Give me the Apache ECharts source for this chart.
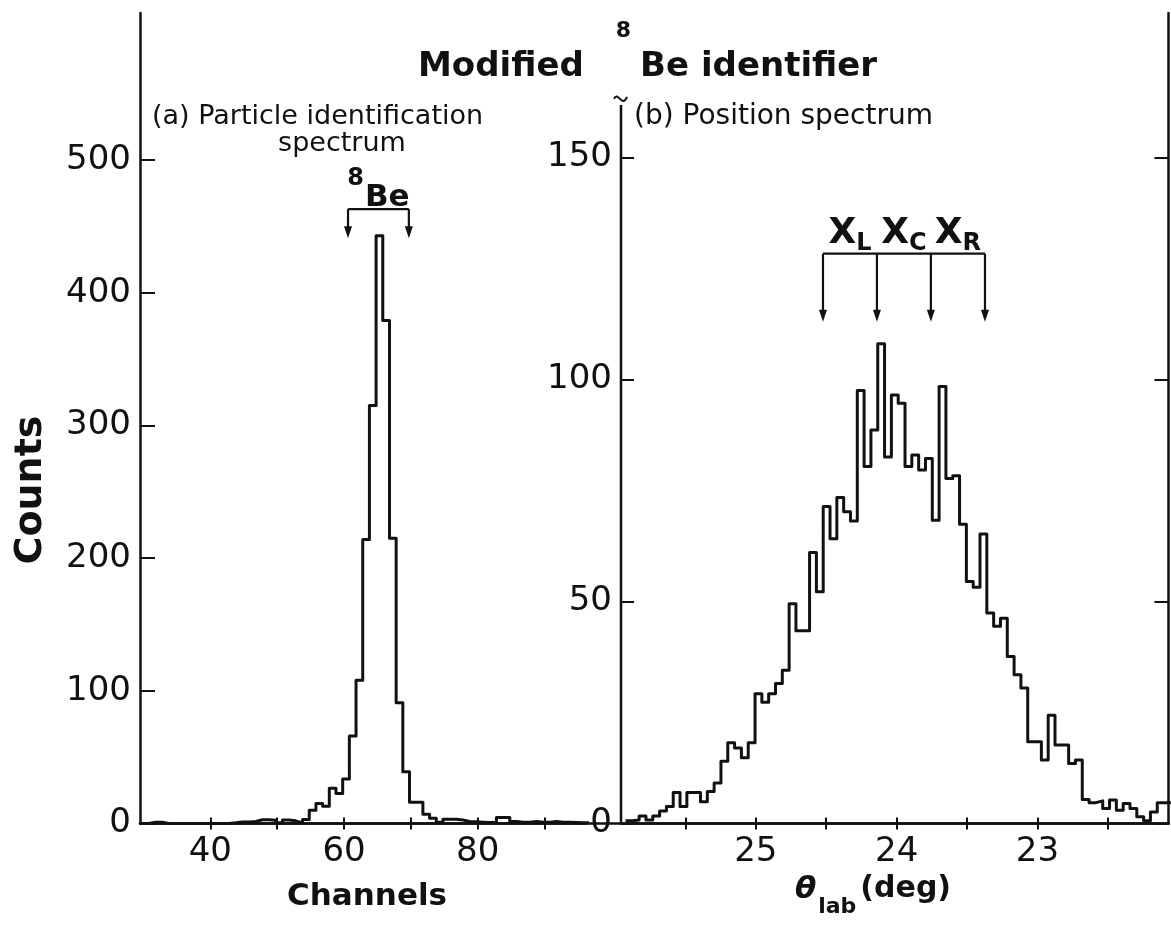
<!DOCTYPE html>
<html><head><meta charset="utf-8">
<script src="https://cdn.jsdelivr.net/npm/echarts@6/dist/echarts.min.js"></script>
<style>html,body{margin:0;padding:0;background:#fff}#c{width:1171px;height:936px}</style>
</head><body><div id="c"></div>
<script>
// ---------- Panel (a): particle identification spectrum ----------
const channels = [30,31,32,33,34,35,36,37,38,39,40,41,42,43,44,45,46,47,48,49,50,51,52,53,54,55,56,57,58,59,60,61,62,63,64,65,66,67,68,69,70,71,72,73,74,75,76,77,78,79,80,81,82,83,84,85,86,87,88,89,90,91,92,93,94,95,96];
const pidCounts = [0,1,1,0,0,0,0,0,0,0,0,0,0,0.5,1.2,1.2,1.5,2.8,2.8,2.5,0.5,2.6,2,0.5,3,10,15,13,26.5,22.7,33.5,66,108,214,315,443,379,215,91,39,16,16,7,4,1,3.2,3.2,2.6,1.5,1.3,1,0.8,0.8,4.5,4.5,1.5,1,1,1.5,1,1,1.5,1,1,0.8,0.5,0.5];
const channelTicks = [40,50,60,70,80,90];
const channelLabels = [40,60,80];
const countTicksA = [0,100,200,300,400,500];
const beGate = [60.6, 69.7];          // 8Be window (channels)
const beGateLevels = [463, 441];      // bracket height, arrow tip (counts)

// ---------- Panel (b): position spectrum ----------
const thetaBinStart = 25.925;   // deg, first bin edge
const thetaBinWidth = 0.0484;   // deg per bin
const posCounts = [0.6,0.8,1.7,0.8,1.7,2.8,3.8,7.0,3.8,7.0,
  7.0,4.9,7.2,9.1,14,18.2,17,14.8,18.2,29.2,
  27.3,29.2,31.5,34.5,49.5,43.4,43.4,61,52.2,71.4,
  64.1,73.4,70.2,68.1,97.5,80.4,88.6,108,82.5,96.5,
  94.6,80.4,83,79.6,82.2,68.3,98.4,77.7,78.3,67.4,
  54.5,53.2,65.2,47.4,44.4,46.2,37.6,33.5,30.5,18.4,
  18.4,14.3,24.4,17.7,17.7,13.5,14.3,5.4,4.7,5.1,
  3.4,5.3,3.0,4.5,3.4,1.5,0.6,2.6,4.7,4.7];
const thetaTicks = [25.5,25,24.5,24,23.5,23,22.5];
const thetaLabels = [25,24,23];
const countTicksB = [0,50,100,150];
const xMarkAngles = [24.523, 24.140, 23.757, 23.373]; // arrows of X_L, X_C, X_R windows
const xMarkNames = ['L','C','R'];
const xMarkLevels = [128.3, 113];

const FONT = 'DejaVu Sans';
const INK = '#111';

const dataA = channels.map((c,i)=>[c-0.2, pidCounts[i]]);
dataA.push([channels[channels.length-1]+0.8, pidCounts[pidCounts.length-1]]);
const dataB = posCounts.map((v,i)=>[thetaBinStart - i*thetaBinWidth, v]);
dataB.push([thetaBinStart - posCounts.length*thetaBinWidth, posCounts[posCounts.length-1]]);

const axisLine = {show:true, lineStyle:{color:INK, width:2.5}};
const tickStyle = {color:INK, width:2};
const labelStyle = {color:INK, fontFamily:FONT, fontSize:34};

const chart = echarts.init(document.getElementById('c'));
const option = {
  animation:false,
  backgroundColor:'#fff',
  grid:[
    {left:140, right:584, top:13, bottom:112.5},
    {left:621, right:2.5, top:13, bottom:112.5},
    {left:140, right:2.5, top:13, bottom:112.5}
  ],
  xAxis:[
    {gridIndex:0, type:'value', position:'bottom', offset:0, min:29.48, max:96.35, axisLine,
      axisTick:{show:true, inside:true, length:6, customValues:channelTicks, lineStyle:tickStyle},
      axisLabel:{...labelStyle, margin:12, customValues:channelLabels}, splitLine:{show:false}},
    {gridIndex:0, type:'value', position:'bottom', offset:0, min:29.48, max:96.35, axisLine:{show:false},
      axisTick:{show:true, inside:false, length:6, customValues:channelTicks, lineStyle:tickStyle},
      axisLabel:{show:false}, splitLine:{show:false}},
    {gridIndex:1, type:'value', position:'bottom', offset:0, inverse:true, min:22.07, max:25.957, axisLine,
      axisTick:{show:true, inside:true, length:6, customValues:thetaTicks, lineStyle:tickStyle},
      axisLabel:{...labelStyle, margin:12, customValues:thetaLabels}, splitLine:{show:false}},
    {gridIndex:1, type:'value', position:'bottom', offset:0, inverse:true, min:22.07, max:25.957, axisLine:{show:false},
      axisTick:{show:true, inside:false, length:6, customValues:thetaTicks, lineStyle:tickStyle},
      axisLabel:{show:false}, splitLine:{show:false}},
    {gridIndex:2, type:'value', position:'top', min:0, max:1, axisLine,
      axisTick:{show:false}, axisLabel:{show:false}, splitLine:{show:false}}
  ],
  yAxis:[
    {gridIndex:0, type:'value', min:0, max:610.8, axisLine,
      axisTick:{show:true, inside:true, length:15, customValues:countTicksA, lineStyle:tickStyle},
      axisLabel:{...labelStyle, margin:9, customValues:countTicksA}, splitLine:{show:false}},
    {gridIndex:1, type:'value', position:'left', min:0, max:182.5, axisLine:{show:false},
      axisTick:{show:true, inside:true, length:13, customValues:countTicksB, lineStyle:tickStyle},
      axisLabel:{...labelStyle, margin:9, customValues:countTicksB}, splitLine:{show:false}},
    {gridIndex:1, type:'value', position:'right', min:0, max:182.5, axisLine,
      axisTick:{show:true, inside:true, length:14, customValues:countTicksB, lineStyle:tickStyle},
      axisLabel:{show:false}, splitLine:{show:false}},
    {gridIndex:2, type:'value', show:false, min:0, max:1}
  ],
  series:[
    {type:'line', xAxisIndex:0, yAxisIndex:0, data:dataA, step:'end', showSymbol:false, symbol:'none',
      lineStyle:{color:INK, width:3, join:'round'}},
    {type:'line', xAxisIndex:2, yAxisIndex:1, data:dataB, step:'end', showSymbol:false, symbol:'none',
      lineStyle:{color:INK, width:3, join:'round'}}
  ]
};
chart.setOption(option);

const pA = (x,y)=>chart.convertToPixel({seriesIndex:0},[x,y]);
const pB = (x,y)=>chart.convertToPixel({seriesIndex:1},[x,y]);
const g = [];
const seg = (a,b,w)=>g.push({type:'line', shape:{x1:a[0],y1:a[1],x2:b[0],y2:b[1]}, style:{stroke:INK, lineWidth:w||2.2}});
const arrow = (p)=>g.push({type:'polygon', shape:{points:[[p[0]-4,p[1]-12],[p[0]+4,p[1]-12],[p[0],p[1]]]}, style:{fill:INK}});

// 8Be bracket
{
  const l0 = pA(beGate[0], beGateLevels[0]), l1 = pA(beGate[0], beGateLevels[1]);
  const r0 = pA(beGate[1], beGateLevels[0]), r1 = pA(beGate[1], beGateLevels[1]);
  seg(l0, r0); seg(l0, [l1[0], l1[1]-8]); seg(r0, [r1[0], r1[1]-8]); arrow(l1); arrow(r1);
  g.push({type:'text', z:10, style:{x:(l0[0]+r0[0])/2, y:l0[1]+4, align:'center', verticalAlign:'bottom',
    text:'{s|8}{b|Be}', fill:INK,
    rich:{s:{fontFamily:FONT, fontWeight:'bold', fontSize:24, verticalAlign:'top', lineHeight:46, padding:[0,1,0,0], fill:INK},
          b:{fontFamily:FONT, fontWeight:'bold', fontSize:31, verticalAlign:'bottom', lineHeight:46, fill:INK}}}});
}
// X_L X_C X_R bracket
{
  const top = xMarkAngles.map(a=>pB(a, xMarkLevels[0]));
  const tip = xMarkAngles.map(a=>pB(a, xMarkLevels[1]));
  seg(top[0], top[top.length-1]);
  top.forEach((t,i)=>{ seg(t, [tip[i][0], tip[i][1]-8]); arrow(tip[i]); });
  xMarkNames.forEach((n,i)=>{
    g.push({type:'text', style:{x:(top[i][0]+top[i+1][0])/2, y:top[i][1]+2, align:'center', verticalAlign:'bottom',
      text:'{x|X}{s|'+n+'}', fill:INK,
      rich:{x:{fontFamily:FONT, fontWeight:'bold', fontSize:36, verticalAlign:'top', lineHeight:40, fill:INK},
            s:{fontFamily:FONT, fontWeight:'bold', fontSize:24, verticalAlign:'bottom', lineHeight:40, fill:INK}}}});
  });
}
// left axis of panel (b) starting below the break mark
{
  const b0 = pB(25.957, 0), b1 = pB(25.957, 161.8);
  seg(b0, b1, 2.5);
  g.push({type:'bezierCurve', shape:{x1:b1[0]-7, y1:b1[1]-6, cpx1:b1[0]-3, cpy1:b1[1]-15, cpx2:b1[0]+1, cpy2:b1[1]+4, x2:b1[0]+6, y2:b1[1]-8},
    style:{stroke:INK, lineWidth:2, fill:null}});
}
// titles and axis names
g.push({type:'text', style:{x:418, y:84, align:'left', verticalAlign:'bottom', text:'{t|Modified}{s|8}{t|Be identifier}', fill:INK,
  rich:{t:{fontFamily:FONT, fontWeight:'bold', fontSize:34, verticalAlign:'bottom', lineHeight:64, fill:INK},
        s:{fontFamily:FONT, fontWeight:'bold', fontSize:22, verticalAlign:'top', lineHeight:64, padding:[0,9,0,32], fill:INK}}}});
g.push({type:'text', style:{x:152, y:130, align:'left', verticalAlign:'bottom', text:'(a) Particle identification', fontFamily:FONT, fontSize:27, fill:INK}});
g.push({type:'text', style:{x:342, y:157, align:'center', verticalAlign:'bottom', text:'spectrum', fontFamily:FONT, fontSize:27, fill:INK}});
g.push({type:'text', style:{x:634, y:131, align:'left', verticalAlign:'bottom', text:'(b) Position spectrum', fontFamily:FONT, fontSize:28, fill:INK}});
g.push({type:'text', rotation:Math.PI/2, x:31, y:490, style:{x:0, y:0, align:'center', verticalAlign:'middle', text:'Counts', fontFamily:FONT, fontWeight:'bold', fontSize:38, fill:INK}});
g.push({type:'text', style:{x:367, y:912, align:'center', verticalAlign:'bottom', text:'Channels', fontFamily:FONT, fontWeight:'bold', fontSize:31, fill:INK}});
g.push({type:'text', style:{x:873, y:918, align:'center', verticalAlign:'bottom', text:'{th|θ}{s|lab}{t|(deg)}', fill:INK,
  rich:{th:{fontFamily:FONT, fontWeight:'bold', fontStyle:'italic', fontSize:31, verticalAlign:'top', lineHeight:44, fill:INK},
        s:{fontFamily:FONT, fontWeight:'bold', fontSize:22, verticalAlign:'bottom', lineHeight:44, padding:[0,4,0,2], fill:INK},
        t:{fontFamily:FONT, fontWeight:'bold', fontSize:30, verticalAlign:'top', lineHeight:44, fill:INK}}}});

chart.setOption({graphic:g});
</script></body></html>
